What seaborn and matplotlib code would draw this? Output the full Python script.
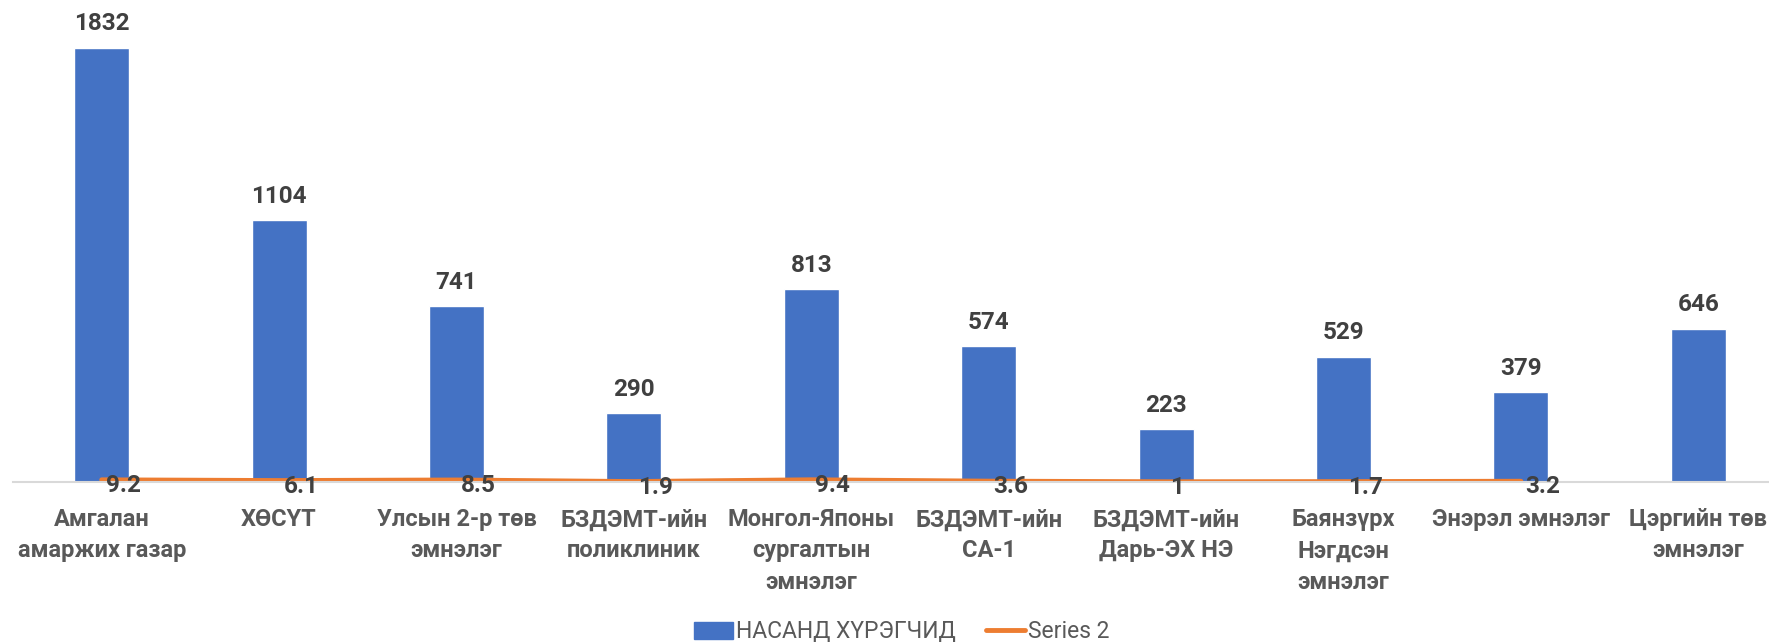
import numpy as np
import pandas as pd
import matplotlib
matplotlib.use("Agg")
import matplotlib.pyplot as plt
import seaborn as sns
from matplotlib.patches import Patch
from matplotlib.lines import Line2D

# Өгөгдөл
categories = [
    "Амгалан\nамаржих газар",
    "ХӨСҮТ",
    "Улсын 2-р төв\nэмнэлэг",
    "БЗДЭМТ-ийн\nполиклиник",
    "Монгол-Японы\nсургалтын\nэмнэлэг",
    "БЗДЭМТ-ийн\nСА-1",
    "БЗДЭМТ-ийн\nДарь-ЭХ НЭ",
    "Баянзүрх\nНэгдсэн\nэмнэлэг",
    "Энэрэл эмнэлэг",
    "Цэргийн төв\nэмнэлэг",
]
adults = [1832, 1104, 741, 290, 813, 574, 223, 529, 379, 646]
series2 = [9.2, 6.1, 8.5, 1.9, 9.4, 3.6, 1, 1.7, 3.2]
series2_labels = ["9.2", "6.1", "8.5", "1.9", "9.4", "3.6", "1", "1.7", "3.2"]

bar_name = "НАСАНД ХҮРЭГЧИД"
line_name = "Series 2"

BLUE = "#4472C4"
ORANGE = "#ED7D31"

sns.set_theme(style="white")
plt.rcParams["font.family"] = ["Roboto", "DejaVu Sans"]

fig = plt.figure(figsize=(17.69, 6.44), dpi=100)
W, H = 1769, 644
# plot area: baseline at y=482px, categories from x=13px, 177.4px per category
ax = fig.add_axes([13 / W, (H - 482) / H, 1774 / W, 474 / H])

df = pd.DataFrame({"cat": categories, "val": adults})
sns.barplot(data=df, x="cat", y="val", color=BLUE, width=0.31,
            saturation=1, ax=ax)

x_line = np.arange(len(series2))
sns.lineplot(x=x_line, y=series2, color=ORANGE, linewidth=3.5, ax=ax,
             solid_capstyle="round")

ax.set_xlim(-0.5, len(categories) - 0.5)
ax.set_ylim(0, 474 / 434 * 1832)

ax.bar_label(ax.containers[0], fmt="%d", padding=9, fontsize=17.5,
             fontweight="bold", color="#404040")

for xi, yi, lab in zip(x_line, series2, series2_labels):
    ax.annotate(lab, (xi, yi), xytext=(3, -4), textcoords="offset points",
                ha="left", va="center", fontsize=17.5, fontweight="bold",
                color="#404040")

for s in ["top", "right", "left"]:
    ax.spines[s].set_visible(False)
ax.spines["bottom"].set_color("#D9D9D9")
ax.spines["bottom"].set_linewidth(1.5)
ax.set_yticks([])
ax.set_xlabel("")
ax.set_ylabel("")
ax.tick_params(axis="x", length=0, pad=19)
for t in ax.get_xticklabels():
    t.set_fontsize(17)
    t.set_fontweight("bold")
    t.set_color("#595959")
    t.set_linespacing(1.45)

handles = [Patch(facecolor=BLUE, edgecolor=BLUE),
           Line2D([0], [0], color=ORANGE, linewidth=3.5)]
fig.legend(handles, [bar_name, line_name], loc="center",
           bbox_to_anchor=(902 / W, 12 / H), ncol=2, frameon=False,
           fontsize=16.5, labelcolor="#595959", handlelength=1.7,
           handleheight=0.8, handletextpad=0.15, columnspacing=1.3)

fig.savefig("out.png", dpi=100)
